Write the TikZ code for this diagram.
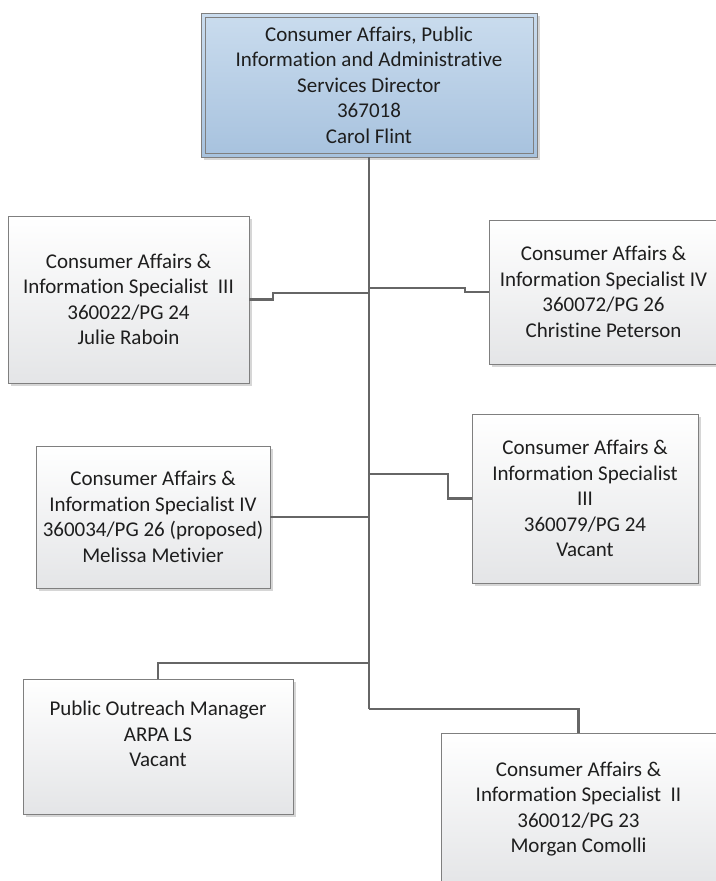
\documentclass[tikz,border=0pt]{standalone}
\usepackage{fontspec}
\setmainfont{Carlito}[Ligatures=NoCommon]
\usetikzlibrary{shadows}
\definecolor{txt}{HTML}{1E1E1E}
\definecolor{edge}{HTML}{7F7F7F}
\definecolor{wire}{HTML}{666666}
\definecolor{boxtop}{HTML}{FFFFFF}
\definecolor{boxbot}{HTML}{E4E5E7}
\definecolor{dirtop}{HTML}{CADCEE}
\definecolor{dirbot}{HTML}{A7C2DE}
\definecolor{shade}{HTML}{D6D6D6}
\tikzset{
  orgbox/.style={rectangle, draw=edge, line width=1pt, inner sep=0pt, outer sep=0pt,
    top color=boxtop, bottom color=boxbot, text=txt, align=center,
    font=\fontsize{21}{25.5}\selectfont,
    drop shadow={shadow xshift=3pt, shadow yshift=-3pt, fill=shade, opacity=1}},
  headbox/.style={orgbox, top color=dirtop, bottom color=dirbot},
  conn/.style={draw=wire, line width=2.8pt, line join=miter}
}
\begin{document}
\begin{tikzpicture}[x=1pt,y=-1pt]
\useasboundingbox[fill=white] (0,0) rectangle (715,881);

% director
\node[headbox, minimum width=336pt, minimum height=144pt] (dir) at (369,85)
  {Consumer Affairs, Public\\Information and Administrative\\Services Director\\367018\\Carol Flint};
\draw[draw=edge, line width=1pt] ([xshift=4pt,yshift=-4pt]dir.north west) rectangle ([xshift=-4pt,yshift=4pt]dir.south east);

% staff positions
\node[orgbox, minimum width=241pt, minimum height=167pt] (julie) at (128.5,299.5)
  {Consumer Affairs \&\\Information Specialist\ \ III\\360022/PG 24\\Julie Raboin};
\node[orgbox, minimum width=229pt, minimum height=144pt] (christine) at (603.5,292)
  {Consumer Affairs \&\\Information Specialist IV\\360072/PG 26\\Christine Peterson};
\node[orgbox, minimum width=234pt, minimum height=142pt] (melissa) at (153,517)
  {Consumer Affairs \&\\Information Specialist IV\\360034/PG 26 (proposed)\\Melissa Metivier};
\node[orgbox, minimum width=226pt, minimum height=169pt] (vac) at (585,498.5)
  {Consumer Affairs \&\\Information Specialist\\III\\360079/PG 24\\Vacant};
\node[orgbox, minimum width=270pt, minimum height=135pt] (pom) at (158,746.5)
  {Public Outreach Manager\\ARPA LS\\Vacant\\\mbox{}};
\node[orgbox, minimum width=275pt, minimum height=152pt] (morgan) at (578.5,809)
  {Consumer Affairs \&\\Information Specialist\ \ II\\360012/PG 23\\Morgan Comolli};

% junctions on the trunk
\coordinate (tC) at (369,288);
\coordinate (tJ) at (369,293);
\coordinate (tV) at (369,474);
\coordinate (tP) at (369,663);
\coordinate (tM) at (369,709);

% connectors
\draw[conn] (dir.south) -- (tM);
\draw[conn] (julie.east) -- ++(24,0) |- (tJ);
\draw[conn] (tC) -- ++(96,0) |- (christine.west);
\draw[conn] (melissa.east) -- (melissa.east -| tJ);
\draw[conn] (tV) -- ++(79,0) |- (vac.west);
\draw[conn] (pom.north) |- (tP);
\draw[conn] (tM) -| (morgan.north);
\end{tikzpicture}
\end{document}
